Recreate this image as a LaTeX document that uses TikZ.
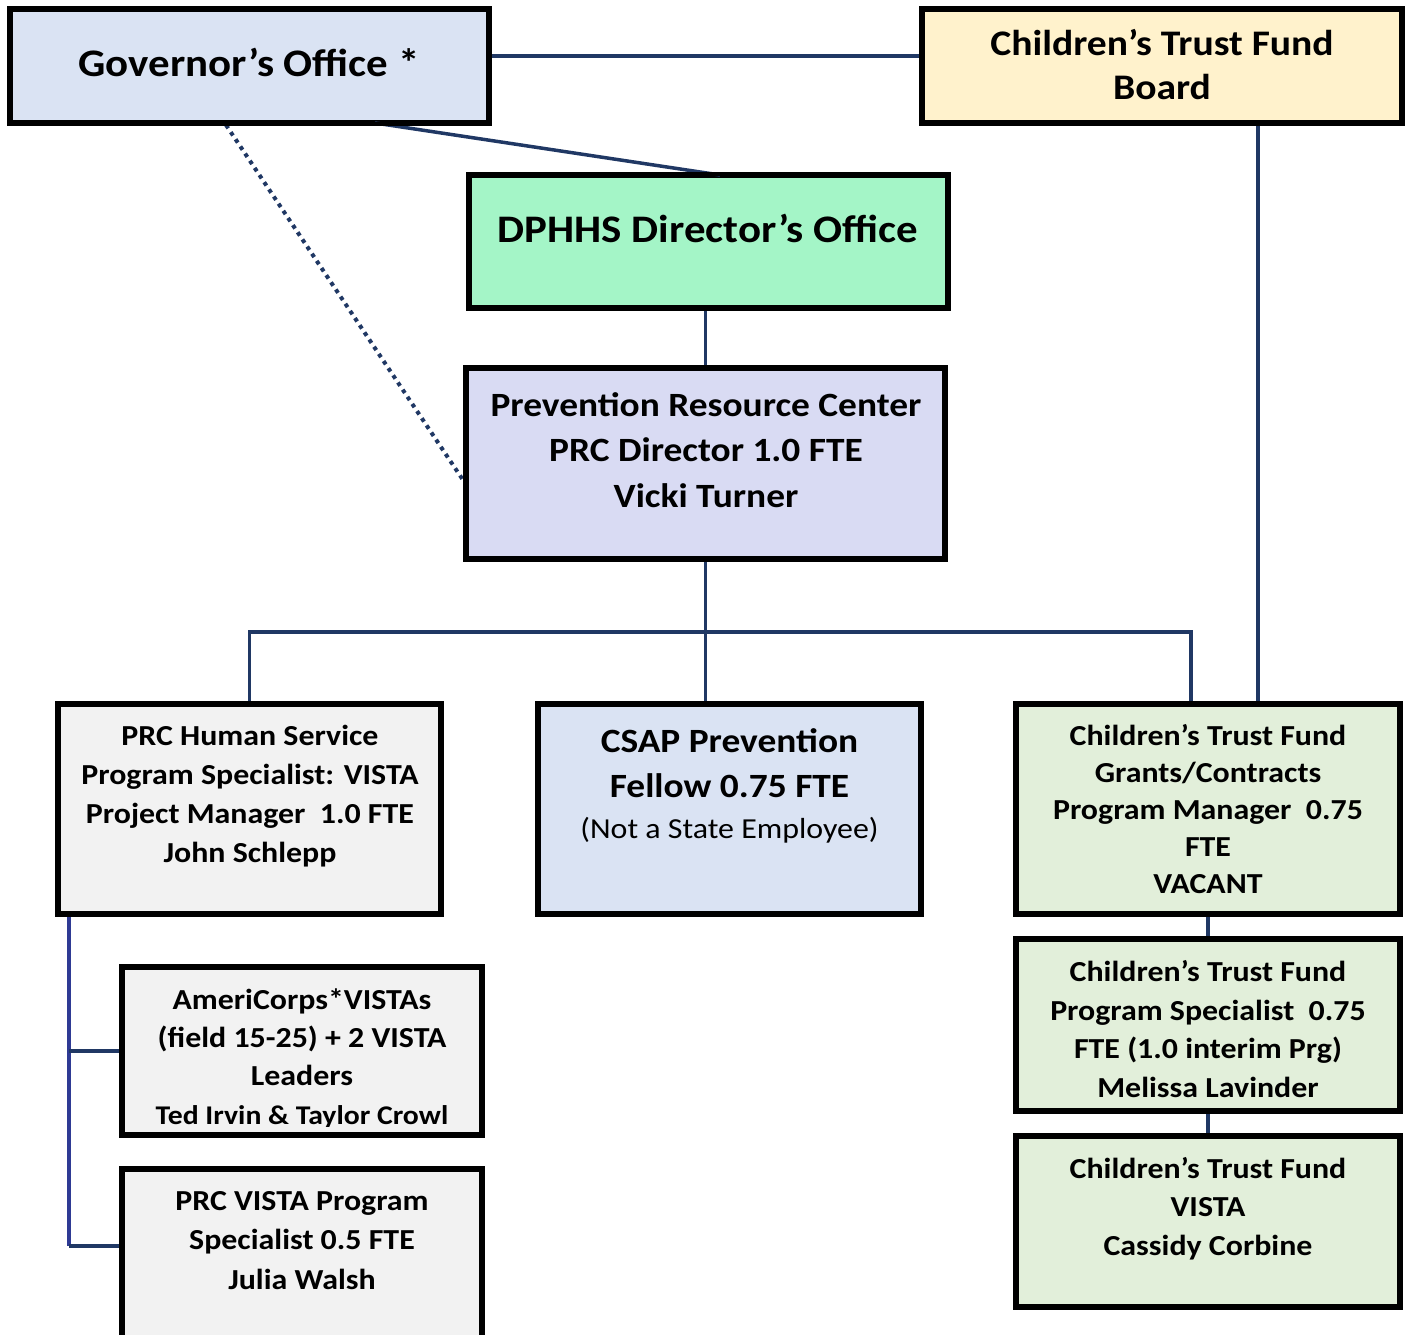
\documentclass[tikz,border=0pt]{standalone}
\usepackage{fontspec}
\setmainfont{Carlito}[FakeStretch=1.1]
\usetikzlibrary{calc}
\definecolor{navy}{HTML}{203864}
\definecolor{vblue}{HTML}{2E3A94}
\definecolor{govblue}{HTML}{DAE3F3}
\definecolor{boardyel}{HTML}{FFF2CC}
\definecolor{mint}{HTML}{A4F5C7}
\definecolor{lav}{HTML}{D9DBF3}
\definecolor{greybox}{HTML}{F2F2F2}
\definecolor{greenbox}{HTML}{E2EFDA}
\newcommand\orgbox[6]{%
  \node[orgrect,fill=#6,minimum width={#4-#2-4},minimum height={#5-#3-4}] (#1) at ({(#2+#4)/2},{(#3+#5)/2}) {};}
\begin{document}
\begin{tikzpicture}[x=1pt,y=-1pt,
  orgrect/.style={draw=black,line width=4pt,inner sep=0pt,rectangle},
  conn/.style={draw=navy,line width=3.5pt},
  dotconn/.style={draw=navy,line width=4pt,dash pattern=on 4pt off 4.6pt},
  lab/.style={anchor=base,align=center,inner sep=0pt}]
\clip (0,0) rectangle (1408,1335);
\fill[white] (0,0) rectangle (1408,1335);

\orgbox{gov}{9}{8}{490}{124}{govblue}
\orgbox{board}{921}{8}{1403}{124}{boardyel}
\orgbox{dph}{468}{174}{949}{309}{mint}
\orgbox{prc}{465}{367}{946}{560}{lav}
\orgbox{hs}{57}{703}{442}{915}{greybox}
\orgbox{csap}{537}{703}{922}{915}{govblue}
\orgbox{ctfg}{1015}{703}{1401}{915}{greenbox}
\orgbox{am}{121}{966}{483}{1136}{greybox}
\orgbox{pv}{121}{1168}{483}{1345}{greybox}
\orgbox{cts}{1015}{938}{1401}{1112}{greenbox}
\orgbox{ctv}{1015}{1135}{1401}{1308}{greenbox}

\coordinate (bar) at (706,632);
\draw[conn] ([yshift=10pt]gov.east) -- ([yshift=10pt]gov.east -| board.west);
\draw[conn] ([xshift=125.5pt,yshift=1pt]gov.south) -- ([xshift=11.5pt,yshift=-1pt]dph.north);
\draw[dotconn] ([xshift=-23.5pt,yshift=-1pt]gov.south) -- ([xshift=-2pt,yshift=-16.5pt]prc.west);
\draw[conn] (prc.north |- dph.south) -- (prc.north);
\draw[conn] (prc.south) -- (prc.south |- csap.north);
\draw[conn] (hs.north) -- (hs.north |- bar) -- ([xshift=-17pt]ctfg.north |- bar) -- ([xshift=-17pt]ctfg.north);
\draw[conn] ([xshift=96pt]board.south) -- ([xshift=96pt]board.south |- ctfg.north);
\draw[draw=vblue,line width=3.5pt] ([xshift=12pt]hs.south west) -- ([xshift=12pt]hs.south west |- am.west);
\draw[draw=vblue,line width=3.5pt] ([xshift=12pt]hs.south west |- am.west) -- ([xshift=12pt,yshift=10.5pt]hs.south west |- pv.west);
\draw[conn] ([xshift=12pt]hs.south west |- am.west) -- (am.west);
\draw[conn] ([xshift=12pt,yshift=10.5pt]hs.south west |- pv.west) -- ([yshift=10.5pt]pv.west);
\draw[conn] (ctfg.south) -- (cts.north);
\draw[conn] (cts.south) -- (ctv.north);

% redraw box outlines over connector ends
\foreach \n in {gov,board,dph,prc,hs,csap,ctfg,am,pv,cts,ctv}{
  \draw[line width=4pt,black] (\n.north west) rectangle (\n.south east);
}

% texts (anchor base = baseline of last line)
\node[lab,font=\bfseries\fontsize{39}{46}\selectfont] (govt) at (249,77) {Governor’s Office *};
\node[lab,font=\bfseries\fontsize{36}{44}\selectfont] (boardt) at (1162,100) {Children’s Trust Fund\\Board};
\node[lab,font=\bfseries\fontsize{39}{46}\selectfont] (dpht) at (708,242) {DPHHS Director’s Office};
\node[lab,font=\bfseries\fontsize{34}{45.5}\selectfont] (prct) at (706,507) {Prevention Resource Center\\PRC Director 1.0 FTE\\Vicki Turner};
\node[lab,font=\bfseries\fontsize{29}{39}\selectfont] (hst) at (250,862) {PRC Human Service\\Program Specialist: VISTA\\Project Manager\ \ 1.0 FTE\\John Schlepp};
\node[lab,font=\bfseries\fontsize{34}{45}\selectfont] (csapt) at (729.5,797) {CSAP Prevention\\Fellow 0.75 FTE};
\node[lab,font=\fontsize{29}{33}\selectfont] (csapn) at (729.5,838) {(Not a State Employee)};
\node[lab,font=\bfseries\fontsize{29}{37}\selectfont] (ctfgt) at (1208,893) {Children’s Trust Fund\\Grants/Contracts\\Program Manager\ \ 0.75\\FTE\\VACANT};
\begin{scope}
\clip (121,966) rectangle (483,1126);
\node[lab,font=\bfseries\fontsize{29}{38.3}\selectfont] (amt) at (302,1124) {AmeriCorps*VISTAs\\(field 15-25) + 2 VISTA\\Leaders\\{\fontsize{27}{38.3}\selectfont Ted Irvin \& Taylor Crowl}};
\end{scope}
\node[lab,font=\bfseries\fontsize{29}{39.5}\selectfont] (pvt) at (302,1289) {PRC VISTA Program\\Specialist 0.5 FTE\\Julia Walsh};
\node[lab,font=\bfseries\fontsize{29}{38.5}\selectfont] (ctst) at (1208,1097) {Children’s Trust Fund\\Program Specialist\ \ 0.75\\FTE (1.0 interim Prg)\\Melissa Lavinder};
\node[lab,font=\bfseries\fontsize{29}{38.5}\selectfont] (ctvt) at (1208,1255) {Children’s Trust Fund\\VISTA\\Cassidy Corbine};
\end{tikzpicture}
\end{document}
